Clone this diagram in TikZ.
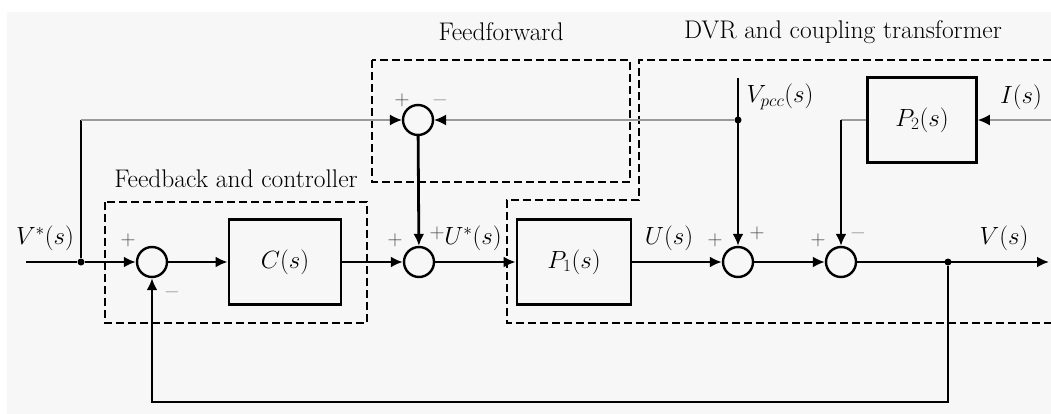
\documentclass[tikz,border=0pt]{standalone}
\usepackage{amsmath}
\usepackage{xcolor}
\usetikzlibrary{arrows.meta, positioning, calc}
\definecolor{bggrey}{HTML}{F7F7F7}
\definecolor{wiregrey}{HTML}{9A9A9A}

\begin{document}
\begin{tikzpicture}[
  x=1pt, y=-1pt,
  font=\fontsize{25}{29}\selectfont,
  block/.style={draw, line width=2.8pt, minimum width=112pt, minimum height=85pt, inner sep=0pt},
  sumnode/.style={draw, circle, line width=2.4pt, minimum size=30pt, inner sep=0pt},
  group/.style={draw, line width=2.2pt, dash pattern=on 8pt off 4pt},
  arrow/.style={-{Latex[length=12pt,width=11pt]}, line width=2.8pt},
  feed/.style={-{Latex[length=12pt,width=11pt,color=black]}, line width=1.2pt, draw=wiregrey},
  wire/.style={line width=1.2pt, draw=wiregrey},
  plus/.style={font=\fontsize{22}{24}\selectfont, inner sep=0pt, text=black!70},
  minus/.style={font=\fontsize{22}{24}\selectfont, inner sep=0pt, text=black!40},
  title/.style={font=\fontsize{25.5}{29}\selectfont},
  dot/.style={circle, fill, inner sep=0pt, minimum size=7pt}
]
\fill[bggrey] (7,12) rectangle (1051,414);
\useasboundingbox (0,0) rectangle (1051,414);

% blocks and summing points
\node[sumnode] (sumA) at (152,262) {};
\node[block] (ctrl) at (285,262) {$C(s)$};
\node[sumnode] (sumB) at (419,262) {};
\node[block, minimum width=114pt] (plantA) at (574,262) {$P_1(s)$};
\node[sumnode] (sumC) at (738,262) {};
\node[sumnode] (sumD) at (841,262) {};
\node[block, minimum width=109pt] (plantB) at (922,120) {$P_2(s)$};
\node[sumnode] (sumF) at (418,120) {};

% branch points and free ends
\coordinate (vin) at (26,262);
\node[dot] (jin) at (81,262) {};
\node[dot] (jpcc) at (738,120) {};
\node[dot] (jout) at (948,262) {};
\coordinate (pcc) at (738,78);
\coordinate (vout) at (1049,262);
\coordinate (iin) at (1051,120);
\coordinate (ffc) at (81,120);
\coordinate (p2c) at (841,120);
\coordinate (fbc) at (948,402);

% signals
\node (lvin) at (45,238) {$V^*(s)$};
\node (lustar) at (473,238) {$U^*(s)$};
\node (lu) at (669,238) {$U(s)$};
\node (lv) at (1004,238) {$V(s)$};
\node[anchor=west] (lpcc) at (743,97) {$V_{pcc}(s)$};
\node (li) at (1021,97) {$I(s)$};

% signs
\node[plus] (sa1) at (128,240) {$+$};
\node[minus] (sa2) at (172,292) {$-$};
\node[plus] (sb1) at (395,240) {$+$};
\node[plus] (sb2) at (437,233) {$+$};
\node[plus] (sc1) at (715,240) {$+$};
\node[plus] (sc2) at (757,233) {$+$};
\node[plus] (sd1) at (818,240) {$+$};
\node[minus] (sd2) at (858,233) {$-$};
\node[plus] (sf1) at (402,100) {$+$};
\node[minus] (sf2) at (440,100) {$-$};

% groups
\draw[group] (372,60) rectangle (630,182);
\draw[group] (105,202) rectangle (367,323);
\draw[group] (1051,60) -- (639,60) -- (639,200) -- (507,200) -- (507,323) -- (1051,323);
\node[title] (tff) at (501,32) {Feedforward};
\node[title] (tdvr) at (843,32) {DVR and coupling transformer};
\node[title] (tfb) at (236,179) {Feedback and controller};

\draw[line width=2.8pt] (vin) -- (jin);
\draw[arrow] (jin) -- (sumA);
\draw[arrow] (sumA) -- (ctrl);
\draw[arrow] (ctrl) -- (sumB);
\draw[arrow] (sumB) -- (plantA);
\draw[arrow] (plantA) -- (sumC);
\draw[arrow] (sumC) -- (sumD);
\draw[arrow] (sumD) -- (vout);
\draw[arrow] (jout) -- (fbc) -| (sumA);
\draw[line width=2.2pt] (jin) -- (ffc);
\draw[feed] (ffc) -- (sumF);
\draw[feed] (jpcc) -- (sumF);
\draw[arrow] (sumF) -- (sumB);
\draw[arrow] (pcc) -- (sumC);
\draw[feed] (iin) -- (plantB);
\draw[wire] (plantB) -- (p2c);
\draw[arrow] (p2c) -- (sumD);
\end{tikzpicture}
\end{document}
